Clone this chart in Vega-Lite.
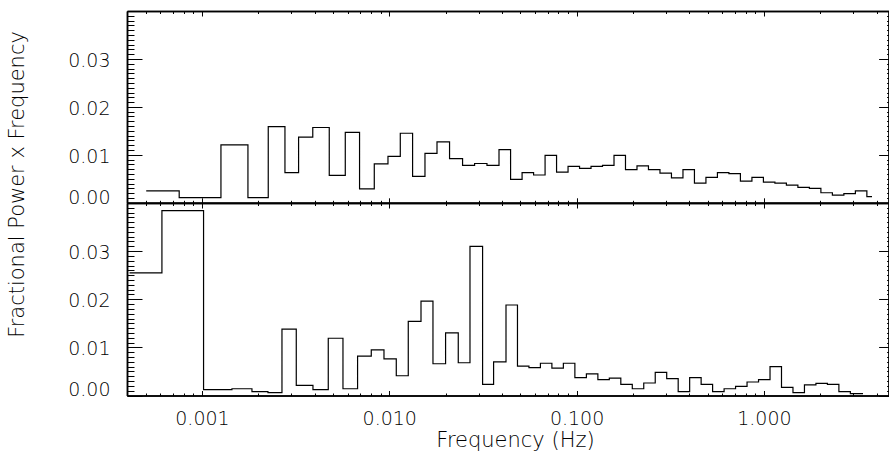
{
  "$schema": "https://vega.github.io/schema/vega-lite/v6.json",
  "padding": {"left": 7, "top": 10, "right": 0, "bottom": 0},
  "bounds": "flush",
  "spacing": 0,
  "background": "white",
  "config": {
    "view": {"stroke": null},
    "axis": {
      "grid": false,
      "domainColor": "#000",
      "domainWidth": 1.5,
      "tickColor": "#000",
      "tickWidth": 1,
      "labelFont": "DejaVu Sans",
      "labelFontSize": 19,
      "labelFontWeight": 200,
      "labelColor": "#000",
      "titleFont": "DejaVu Sans",
      "titleFontSize": 21,
      "titleFontWeight": 200,
      "titleColor": "#000"
    }
  },
  "datasets": {
    "top": [
      {"f": 0.000504, "p": 0.0025},
      {"f": 0.000756, "p": 0.0011},
      {"f": 0.001263, "p": 0.0121},
      {"f": 0.00176, "p": 0.0011},
      {"f": 0.002259, "p": 0.0159},
      {"f": 0.002774, "p": 0.0063},
      {"f": 0.00328, "p": 0.0137},
      {"f": 0.003905, "p": 0.0157},
      {"f": 0.004782, "p": 0.0057},
      {"f": 0.005823, "p": 0.0147},
      {"f": 0.00694, "p": 0.0029},
      {"f": 0.008317, "p": 0.0081},
      {"f": 0.009842, "p": 0.0097},
      {"f": 0.01145, "p": 0.0145},
      {"f": 0.01332, "p": 0.0055},
      {"f": 0.01551, "p": 0.0103},
      {"f": 0.01798, "p": 0.0127},
      {"f": 0.02098, "p": 0.0092},
      {"f": 0.02462, "p": 0.0078},
      {"f": 0.02854, "p": 0.0082},
      {"f": 0.03323, "p": 0.0078},
      {"f": 0.03853, "p": 0.0111},
      {"f": 0.04442, "p": 0.0049},
      {"f": 0.05117, "p": 0.0063},
      {"f": 0.05894, "p": 0.0058},
      {"f": 0.06788, "p": 0.0099},
      {"f": 0.07817, "p": 0.0064},
      {"f": 0.09003, "p": 0.0076},
      {"f": 0.1037, "p": 0.0072},
      {"f": 0.1194, "p": 0.0076},
      {"f": 0.1375, "p": 0.0078},
      {"f": 0.1584, "p": 0.0099},
      {"f": 0.1824, "p": 0.0069},
      {"f": 0.2101, "p": 0.0077},
      {"f": 0.2419, "p": 0.0069},
      {"f": 0.2787, "p": 0.0062},
      {"f": 0.3209, "p": 0.0052},
      {"f": 0.3697, "p": 0.0069},
      {"f": 0.4257, "p": 0.0041},
      {"f": 0.4903, "p": 0.0053},
      {"f": 0.5647, "p": 0.0063},
      {"f": 0.6503, "p": 0.0061},
      {"f": 0.749, "p": 0.0045},
      {"f": 0.8629, "p": 0.0053},
      {"f": 0.9938, "p": 0.0043},
      {"f": 1.1446, "p": 0.0041},
      {"f": 1.3183, "p": 0.0037},
      {"f": 1.5184, "p": 0.0032},
      {"f": 1.7489, "p": 0.003},
      {"f": 2.0143, "p": 0.0021},
      {"f": 2.3201, "p": 0.0016},
      {"f": 2.6722, "p": 0.0019},
      {"f": 3.0778, "p": 0.0025},
      {"f": 3.5449, "p": 0.0013},
      {"f": 3.777, "p": 0.0013}
    ],
    "bottom": [
      {"f": 0.0004107, "p": 0.0255},
      {"f": 0.0006114, "p": 0.0384},
      {"f": 0.00102, "p": 0.0012},
      {"f": 0.001446, "p": 0.0014},
      {"f": 0.001849, "p": 0.0008},
      {"f": 0.002251, "p": 0.0006},
      {"f": 0.002674, "p": 0.0138},
      {"f": 0.003188, "p": 0.0021},
      {"f": 0.003914, "p": 0.0012},
      {"f": 0.004724, "p": 0.0119},
      {"f": 0.00566, "p": 0.0014},
      {"f": 0.006773, "p": 0.0082},
      {"f": 0.008015, "p": 0.0095},
      {"f": 0.00937, "p": 0.0076},
      {"f": 0.0109, "p": 0.0041},
      {"f": 0.01263, "p": 0.0154},
      {"f": 0.01477, "p": 0.0196},
      {"f": 0.01711, "p": 0.0066},
      {"f": 0.01998, "p": 0.013},
      {"f": 0.02335, "p": 0.0068},
      {"f": 0.02697, "p": 0.031},
      {"f": 0.03149, "p": 0.0023},
      {"f": 0.03605, "p": 0.007},
      {"f": 0.04199, "p": 0.0188},
      {"f": 0.04835, "p": 0.0061},
      {"f": 0.05567, "p": 0.0058},
      {"f": 0.0641, "p": 0.0067},
      {"f": 0.07381, "p": 0.0057},
      {"f": 0.08499, "p": 0.0067},
      {"f": 0.09791, "p": 0.0037},
      {"f": 0.1128, "p": 0.0045},
      {"f": 0.1299, "p": 0.0033},
      {"f": 0.1495, "p": 0.0036},
      {"f": 0.1722, "p": 0.0023},
      {"f": 0.1983, "p": 0.0014},
      {"f": 0.2283, "p": 0.0026},
      {"f": 0.2629, "p": 0.0048},
      {"f": 0.3027, "p": 0.0035},
      {"f": 0.3486, "p": 0.0008},
      {"f": 0.4014, "p": 0.0037},
      {"f": 0.4622, "p": 0.0023},
      {"f": 0.5322, "p": 0.0008},
      {"f": 0.6129, "p": 0.0014},
      {"f": 0.7057, "p": 0.0019},
      {"f": 0.8127, "p": 0.0028},
      {"f": 0.9361, "p": 0.0033},
      {"f": 1.0779, "p": 0.006},
      {"f": 1.2412, "p": 0.0017},
      {"f": 1.4293, "p": 0.0006},
      {"f": 1.6458, "p": 0.0022},
      {"f": 1.8952, "p": 0.0025},
      {"f": 2.1824, "p": 0.0023},
      {"f": 2.5133, "p": 0.0008},
      {"f": 2.8941, "p": 0.0004},
      {"f": 3.381, "p": 0.0004}
    ]
  },
  "vconcat": [
    {
      "width": 761.6,
      "height": 191.8,
      "data": {"name": "top"},
      "resolve": {"axis": {"x": "independent", "y": "independent"}},
      "layer": [
        {
          "mark": {"type": "line", "interpolate": "step-after", "color": "#000", "strokeWidth": 1.2},
          "encoding": {
            "x": {"field": "f", "type": "quantitative", "scale": {"type": "log", "domain": [0.000398, 4.63], "nice": false},
              "axis": {"orient": "bottom", "values": [0.001, 0.01, 0.1, 1], "tickSize": -5, "labels": false, "title": null}},
            "y": {"field": "p", "type": "quantitative", "scale": {"domain": [0, 0.04], "nice": false},
              "axis": {"orient": "left", "values": [0, 0.01, 0.02, 0.03], "format": ".2f", "tickSize": -15, "labelPadding": 32, "labelFlush": true, "labelFlushOffset": 3, "labelOffset": 1.5,
                "title": "Fractional Power x Frequency", "titleX": -109, "titleY": 173, "titleAngle": 270, "titleAlign": "center", "titleBaseline": "middle"}}
          }
        },
        {
          "mark": {"type": "line", "interpolate": "step-after", "opacity": 0},
          "encoding": {
            "x": {"field": "f", "type": "quantitative", "scale": {"type": "log", "domain": [0.000398, 4.63], "nice": false},
              "axis": {"orient": "bottom", "values": [0.0005, 0.0006, 0.0007, 0.0008, 0.0009, 0.002, 0.003, 0.004, 0.005, 0.006, 0.007, 0.008, 0.009, 0.02, 0.03, 0.04, 0.05, 0.06, 0.07, 0.08, 0.09, 0.2, 0.3, 0.4, 0.5, 0.6, 0.7, 0.8, 0.9, 2, 3, 4], "tickSize": -2.5, "labels": false, "title": null}},
            "y": {"field": "p", "type": "quantitative", "scale": {"domain": [0, 0.04], "nice": false},
              "axis": {"orient": "left", "values": [0.001, 0.002, 0.003, 0.004, 0.005, 0.006, 0.007, 0.008, 0.009, 0.011, 0.012, 0.013, 0.014, 0.015, 0.016, 0.017, 0.018, 0.019, 0.021, 0.022, 0.023, 0.024, 0.025, 0.026, 0.027, 0.028, 0.029, 0.031, 0.032, 0.033, 0.034, 0.035, 0.036, 0.037, 0.038, 0.039], "tickSize": -7, "labels": false, "title": null}}
          }
        },
        {
          "mark": {"type": "line", "interpolate": "step-after", "opacity": 0},
          "encoding": {
            "x": {"field": "f", "type": "quantitative", "scale": {"type": "log", "domain": [0.000398, 4.63], "nice": false},
              "axis": {"orient": "top", "values": [0.001, 0.01, 0.1, 1], "tickSize": -5, "labels": false, "title": null}},
            "y": {"field": "p", "type": "quantitative", "scale": {"domain": [0, 0.04], "nice": false},
              "axis": {"orient": "right", "values": [0, 0.01, 0.02, 0.03, 0.04], "tickSize": -10, "labels": false, "title": null}}
          }
        },
        {
          "mark": {"type": "line", "interpolate": "step-after", "opacity": 0},
          "encoding": {
            "x": {"field": "f", "type": "quantitative", "scale": {"type": "log", "domain": [0.000398, 4.63], "nice": false},
              "axis": {"orient": "top", "values": [0.0005, 0.0006, 0.0007, 0.0008, 0.0009, 0.002, 0.003, 0.004, 0.005, 0.006, 0.007, 0.008, 0.009, 0.02, 0.03, 0.04, 0.05, 0.06, 0.07, 0.08, 0.09, 0.2, 0.3, 0.4, 0.5, 0.6, 0.7, 0.8, 0.9, 2, 3, 4], "tickSize": -2.5, "labels": false, "title": null}},
            "y": {"field": "p", "type": "quantitative", "scale": {"domain": [0, 0.04], "nice": false},
              "axis": {"orient": "right", "values": [0.001, 0.002, 0.003, 0.004, 0.005, 0.006, 0.007, 0.008, 0.009, 0.011, 0.012, 0.013, 0.014, 0.015, 0.016, 0.017, 0.018, 0.019, 0.021, 0.022, 0.023, 0.024, 0.025, 0.026, 0.027, 0.028, 0.029, 0.031, 0.032, 0.033, 0.034, 0.035, 0.036, 0.037, 0.038, 0.039], "tickSize": -2, "labels": false, "title": null}}
          }
        }
      ]
    },
    {
      "width": 761.6,
      "height": 192.5,
      "data": {"name": "bottom"},
      "resolve": {"axis": {"x": "independent", "y": "independent"}},
      "layer": [
        {
          "mark": {"type": "line", "interpolate": "step-after", "color": "#000", "strokeWidth": 1.2},
          "encoding": {
            "x": {"field": "f", "type": "quantitative", "scale": {"type": "log", "domain": [0.000398, 4.63], "nice": false},
              "axis": {"orient": "bottom", "values": [0.001, 0.01, 0.1, 1], "format": ".3f", "tickSize": -5, "labelPadding": 34, "labelBaseline": "alphabetic",
                "title": "Frequency (Hz)", "titleX": 388, "titleY": 51, "titleBaseline": "alphabetic", "titleAlign": "center"}},
            "y": {"field": "p", "type": "quantitative", "scale": {"domain": [0, 0.04], "nice": false},
              "axis": {"orient": "left", "values": [0, 0.01, 0.02, 0.03], "format": ".2f", "tickSize": -15, "labelPadding": 32, "labelFlush": true, "labelFlushOffset": 3, "labelOffset": 1.5, "title": null}}
          }
        },
        {
          "mark": {"type": "line", "interpolate": "step-after", "opacity": 0},
          "encoding": {
            "x": {"field": "f", "type": "quantitative", "scale": {"type": "log", "domain": [0.000398, 4.63], "nice": false},
              "axis": {"orient": "bottom", "values": [0.0005, 0.0006, 0.0007, 0.0008, 0.0009, 0.002, 0.003, 0.004, 0.005, 0.006, 0.007, 0.008, 0.009, 0.02, 0.03, 0.04, 0.05, 0.06, 0.07, 0.08, 0.09, 0.2, 0.3, 0.4, 0.5, 0.6, 0.7, 0.8, 0.9, 2, 3, 4], "tickSize": -2.5, "labels": false, "title": null}},
            "y": {"field": "p", "type": "quantitative", "scale": {"domain": [0, 0.04], "nice": false},
              "axis": {"orient": "left", "values": [0.001, 0.002, 0.003, 0.004, 0.005, 0.006, 0.007, 0.008, 0.009, 0.011, 0.012, 0.013, 0.014, 0.015, 0.016, 0.017, 0.018, 0.019, 0.021, 0.022, 0.023, 0.024, 0.025, 0.026, 0.027, 0.028, 0.029, 0.031, 0.032, 0.033, 0.034, 0.035, 0.036, 0.037, 0.038, 0.039], "tickSize": -7, "labels": false, "title": null}}
          }
        },
        {
          "mark": {"type": "line", "interpolate": "step-after", "opacity": 0},
          "encoding": {
            "x": {"field": "f", "type": "quantitative", "scale": {"type": "log", "domain": [0.000398, 4.63], "nice": false},
              "axis": {"orient": "top", "values": [0.001, 0.01, 0.1, 1], "tickSize": -5, "labels": false, "title": null}},
            "y": {"field": "p", "type": "quantitative", "scale": {"domain": [0, 0.04], "nice": false},
              "axis": {"orient": "right", "values": [0, 0.01, 0.02, 0.03, 0.04], "tickSize": -10, "labels": false, "title": null}}
          }
        },
        {
          "mark": {"type": "line", "interpolate": "step-after", "opacity": 0},
          "encoding": {
            "x": {"field": "f", "type": "quantitative", "scale": {"type": "log", "domain": [0.000398, 4.63], "nice": false},
              "axis": {"orient": "top", "values": [0.0005, 0.0006, 0.0007, 0.0008, 0.0009, 0.002, 0.003, 0.004, 0.005, 0.006, 0.007, 0.008, 0.009, 0.02, 0.03, 0.04, 0.05, 0.06, 0.07, 0.08, 0.09, 0.2, 0.3, 0.4, 0.5, 0.6, 0.7, 0.8, 0.9, 2, 3, 4], "tickSize": -2.5, "labels": false, "title": null}},
            "y": {"field": "p", "type": "quantitative", "scale": {"domain": [0, 0.04], "nice": false},
              "axis": {"orient": "right", "values": [0.001, 0.002, 0.003, 0.004, 0.005, 0.006, 0.007, 0.008, 0.009, 0.011, 0.012, 0.013, 0.014, 0.015, 0.016, 0.017, 0.018, 0.019, 0.021, 0.022, 0.023, 0.024, 0.025, 0.026, 0.027, 0.028, 0.029, 0.031, 0.032, 0.033, 0.034, 0.035, 0.036, 0.037, 0.038, 0.039], "tickSize": -2, "labels": false, "title": null}}
          }
        }
      ]
    }
  ]
}
